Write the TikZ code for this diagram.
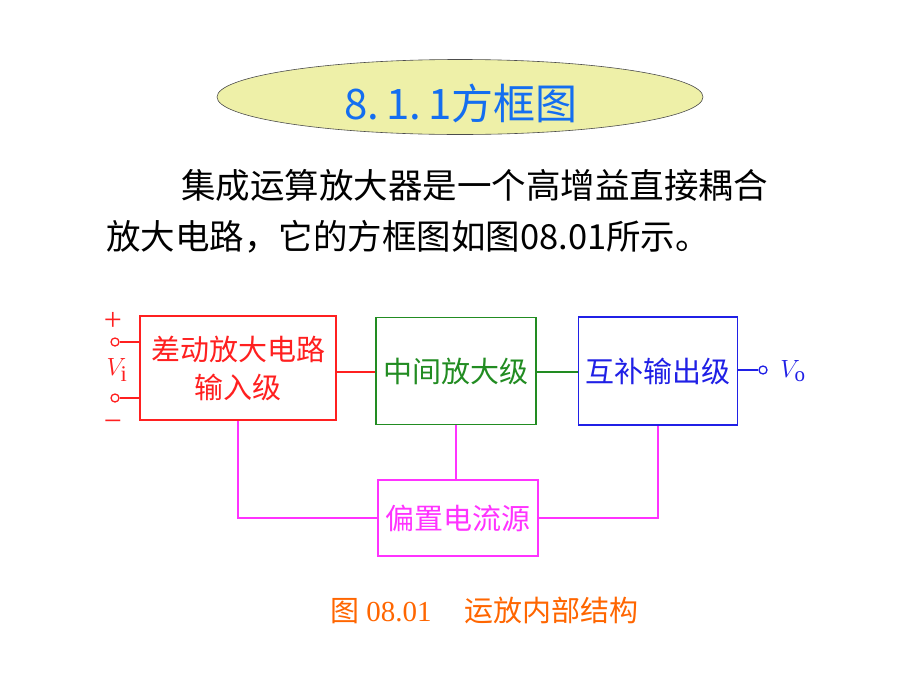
\documentclass[tikz,border=0pt]{standalone}
\usepackage{fontspec}
\setmainfont{Liberation Serif}
\newfontfamily\cjk{Noto Sans CJK SC}
\usetikzlibrary{shapes.geometric,positioning}
\definecolor{boxred}{RGB}{255,32,32}
\definecolor{boxgreen}{RGB}{34,140,34}
\definecolor{boxblue}{RGB}{32,32,230}
\definecolor{boxpink}{RGB}{255,51,255}
\definecolor{titleblue}{RGB}{20,110,240}
\definecolor{titlefill}{RGB}{238,240,168}
\definecolor{caporange}{RGB}{255,102,0}
\tikzset{
  block/.style={draw, line width=1.6pt, align=center, inner sep=0pt,
    font=\cjk\fontsize{29}{38}\selectfont},
  term/.style={circle, draw, line width=1.3pt, fill=white, inner sep=0pt, minimum size=8pt},
  wire/.style={line width=1.5pt}
}
\begin{document}
\begin{tikzpicture}[x=1pt,y=-1pt]
  % page
  \fill[white] (0,0) rectangle (900,675);
  \useasboundingbox (0,0) rectangle (900,675);
  % heading in the ellipse
  \node[ellipse, draw=black!70, fill=titlefill, line width=0.6pt,
    minimum width=486pt, minimum height=75pt, inner sep=0pt] (badge) at (460,97) {};
  \node[text=titleblue, font=\cjk\fontsize{42}{42}\selectfont] (title) at (461,103) {8.\,1.\,1方框图};
  % paragraph, two lines
  \node[anchor=west, inner sep=0pt, font=\cjk\fontsize{34.5}{40}\selectfont] (line1) at (181,185) {集成运算放大器是一个高增益直接耦合};
  \node[anchor=west, inner sep=0pt, font=\cjk\fontsize{34.5}{40}\selectfont] (line2) at (106,237) {放大电路，它的方框图如图08.01所示。};
  % the four stages
  \node[block, draw=boxred, text=boxred, minimum width=196pt, minimum height=104pt] (inA) at (238,368) {差动放大电路\\输入级};
  \node[block, draw=boxgreen, text=boxgreen, minimum width=160pt, minimum height=107pt] (mid) at (456,371) {中间放大级};
  \node[block, draw=boxblue, text=boxblue, minimum width=159pt, minimum height=108pt] (outC) at (658,371) {互补输出级};
  \node[block, draw=boxpink, text=boxpink, minimum width=160pt, minimum height=76pt] (bias) at (458,518) {偏置电流源};
  % input terminals
  \node[term, draw=boxred] (ip) at (115,342) {};
  \node[term, draw=boxred] (in) at (115,398) {};
  \draw[wire, boxred] (ip.east) -- (ip -| inA.west);
  \draw[wire, boxred] (in.east) -- (in -| inA.west);
  \node[boxred, font=\fontsize{32}{32}\selectfont] (plus) at (113,321) {+};
  \node[boxred, font=\fontsize{32}{32}\selectfont] (minus) at (113,426) {\textminus};
  \node[boxred, font=\fontsize{32}{32}\selectfont] (vi) at (117,370) {$V_{\mathrm{i}}$};
  % output terminal
  \node[term, draw=boxblue] (op) at (763,370) {};
  \draw[wire, boxblue] (op.west) -- (op -| outC.east);
  \node[boxblue, font=\fontsize{30}{30}\selectfont] (vo) at (793,371) {$V_{\mathrm{o}}$};
  % signal path
  \draw[wire, boxred] (inA.east |- 0,372) -- (mid.west |- 0,372);
  \draw[wire, boxgreen] (mid.east |- 0,372) -- (outC.west |- 0,372);
  % bias lines
  \draw[wire, boxpink] (inA.south) |- (bias.west);
  \draw[wire, boxpink] (mid.south) -- (mid.south |- bias.north);
  \draw[wire, boxpink] (bias.east) -| (outC.south);
  % caption
  \node[anchor=west, inner sep=0pt, text=caporange, font=\fontsize{29}{29}\selectfont] (cap) at (330,610) {{\cjk 图} 08.01\hspace{33pt}{\cjk 运放内部结构}};
\end{tikzpicture}
\end{document}
